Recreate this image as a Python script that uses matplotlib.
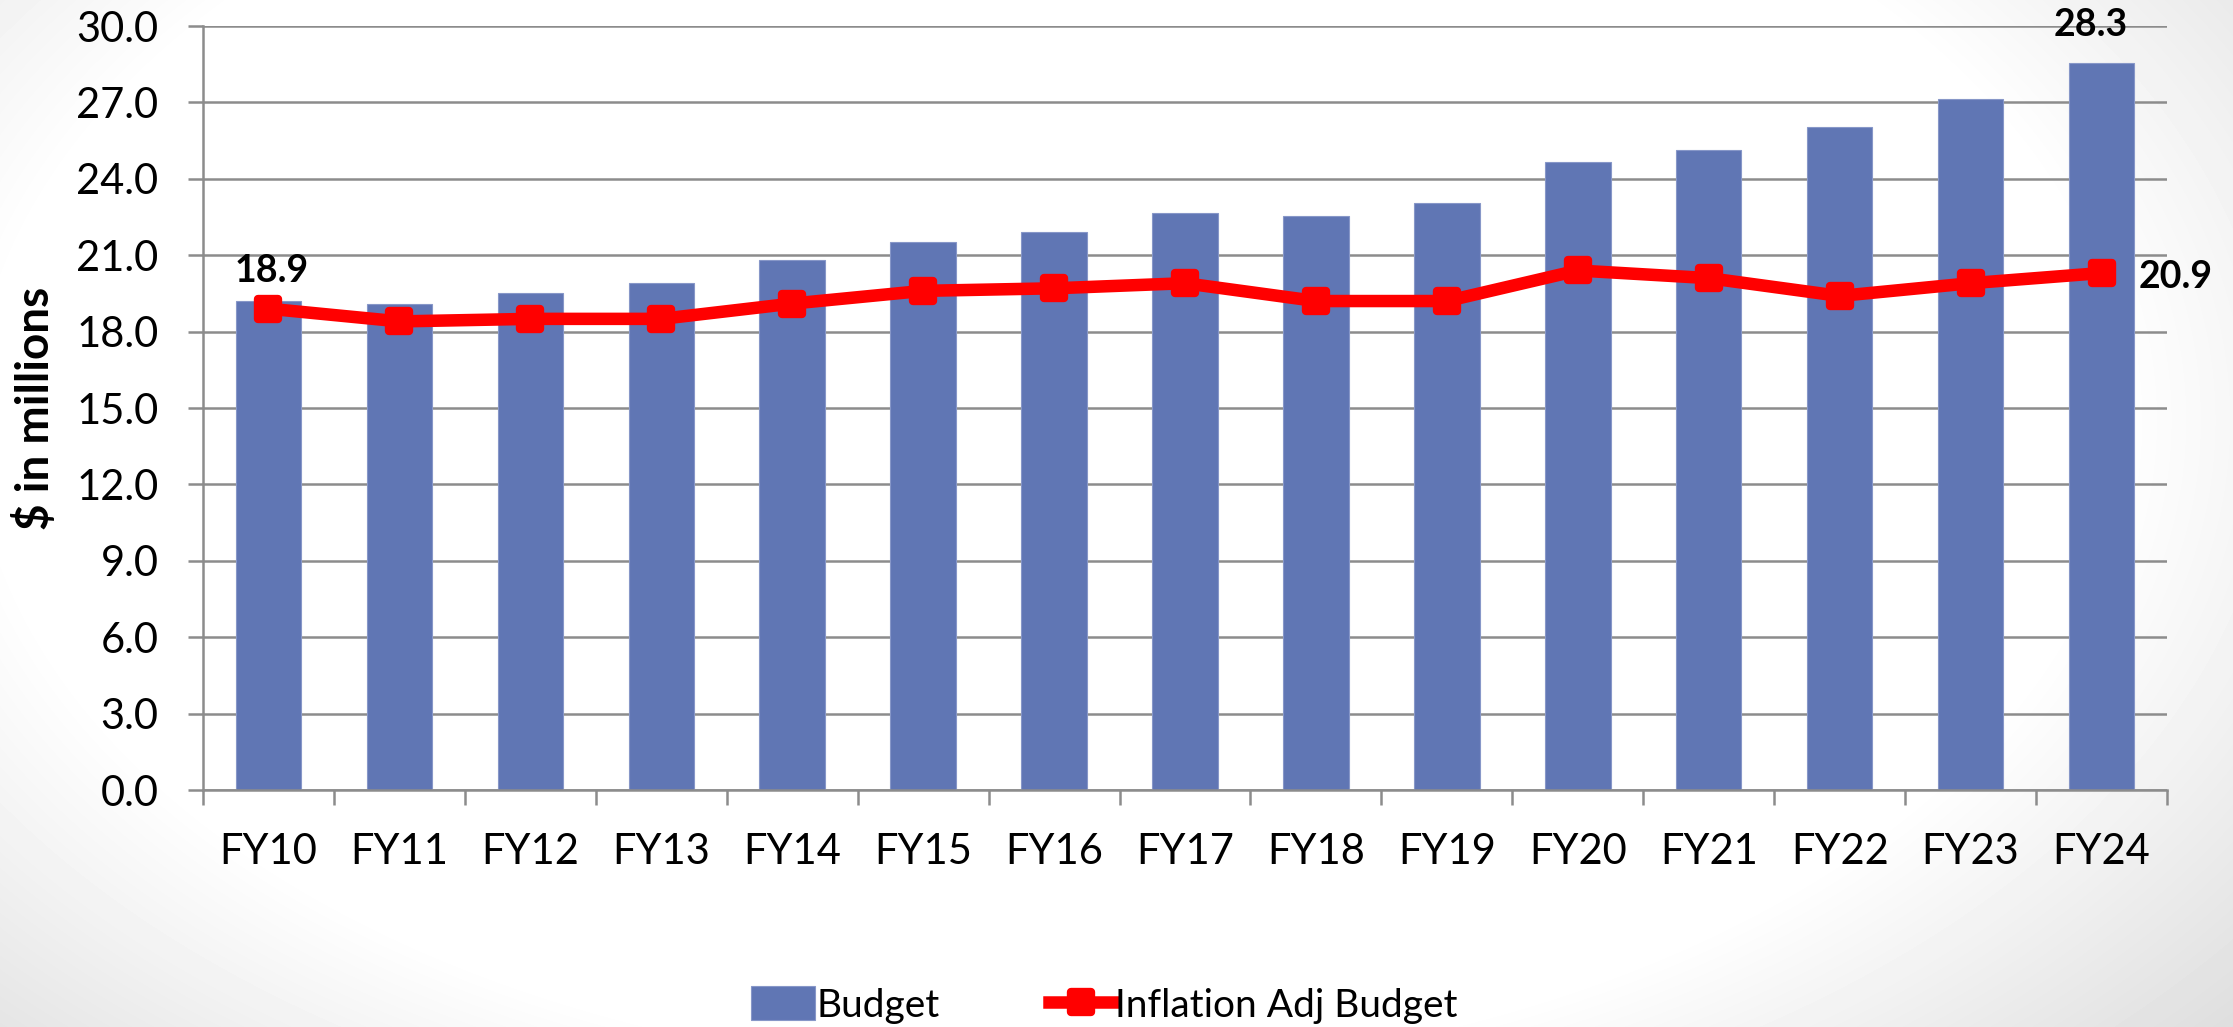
import matplotlib
matplotlib.use("Agg")
import matplotlib.pyplot as plt
import numpy as np
from matplotlib.markers import MarkerStyle
from matplotlib.patches import FancyBboxPatch, Rectangle
from matplotlib.legend_handler import HandlerPatch

# ---------------- data ----------------
categories = ["FY10", "FY11", "FY12", "FY13", "FY14", "FY15", "FY16", "FY17",
              "FY18", "FY19", "FY20", "FY21", "FY22", "FY23", "FY24"]
budget = [19.2, 19.1, 19.5, 19.9, 20.8, 21.5, 21.9, 22.65, 22.55, 23.05,
          24.65, 25.15, 26.05, 27.15, 28.55]
inflation_adj = [18.9, 18.4, 18.5, 18.5, 19.1, 19.6, 19.7, 19.9, 19.2, 19.2,
                 20.4, 20.1, 19.4, 19.9, 20.3]
y_ticks = [0, 3, 6, 9, 12, 15, 18, 21, 24, 27, 30]
first_adj_label = "18.9"
last_budget_label = "28.3"
last_adj_label = "20.9"
series_names = ["Budget", "Inflation Adj Budget"]

# ---------------- style ----------------
BAR_COLOR = "#6076B4"
LINE_COLOR = "#FF0000"
GRID_COLOR = "#8C8C8C"
FONT = "Lato"

W, H, DPI = 2233, 1027, 100
fig = plt.figure(figsize=(W / DPI, H / DPI), dpi=DPI)

# slide-like background vignette
bg = fig.add_axes([0, 0, 1, 1], zorder=-10)
yy, xx = np.mgrid[0:H, 0:W]
r = np.sqrt(((xx - 1050) / 1250.0) ** 2 + ((yy - 420) / 760.0) ** 2)
t = np.clip((r - 0.85) / 0.45, 0, 1)
gray = 1.0 - 0.15 * t
bg.imshow(gray, cmap="gray", vmin=0, vmax=1, aspect="auto", interpolation="bilinear")
bg.set_axis_off()

ax = fig.add_axes([203 / W, 1 - 790 / H, (2167 - 203) / W, (790 - 26) / H])
ax.set_facecolor("none")

x = np.arange(len(categories))
bars = ax.bar(x, budget, width=0.5, color=BAR_COLOR, edgecolor="#8797C8",
              linewidth=0.8, zorder=2, label=series_names[0])
mstyle = MarkerStyle("s", joinstyle="round")
line, = ax.plot(x, inflation_adj, color=LINE_COLOR, linewidth=9, marker=mstyle,
                markersize=15, markeredgewidth=6, markerfacecolor=LINE_COLOR,
                markeredgecolor=LINE_COLOR, solid_joinstyle="round", zorder=3,
                label=series_names[1])

ax.set_xlim(-0.5, len(categories) - 0.5)
ax.set_ylim(0, 30)
ax.set_yticks(y_ticks)
ax.set_yticklabels([f"{v:.1f}" for v in y_ticks], fontsize=30, family=FONT)
ax.set_xticks(x)
ax.set_xticklabels(categories, fontsize=30, family=FONT)
ax.set_xticks(np.arange(-0.5, len(categories), 1.0), minor=True)

ax.yaxis.grid(True, color=GRID_COLOR, linewidth=1.8, zorder=0)
ax.set_axisbelow(True)
ax.tick_params(axis="y", which="major", length=11, width=1.8, color=GRID_COLOR,
               pad=21)
ax.tick_params(axis="x", which="major", length=0, pad=31)
ax.tick_params(axis="x", which="minor", length=11, width=1.8, color=GRID_COLOR)

for side in ["top", "right"]:
    ax.spines[side].set_visible(False)
for side in ["left", "bottom"]:
    ax.spines[side].set_color(GRID_COLOR)
    ax.spines[side].set_linewidth(1.8)

ax.set_ylabel("$ in millions", fontsize=33, family=FONT, fontweight="bold",
              va="center", ha="center")
ax.yaxis.set_label_coords(-0.0855, 0.5)

# data labels
ax.annotate(first_adj_label, (x[0], inflation_adj[0]), xytext=(2, 27),
            textcoords="offset points", ha="center", va="center",
            fontsize=27, fontweight="bold", family=FONT, zorder=5)
ax.annotate(last_budget_label, (x[-1], budget[-1]), xytext=(-8, 27),
            textcoords="offset points", ha="center", va="center",
            fontsize=27, fontweight="bold", family=FONT, zorder=5,
            annotation_clip=False)
ax.annotate(last_adj_label, (x[-1], inflation_adj[-1]), xytext=(27, -3),
            textcoords="offset points", ha="left", va="center",
            fontsize=27, fontweight="bold", family=FONT, zorder=5,
            annotation_clip=False)


# legend with rounded patch
def rounded_patch(legend, orig_handle, xdescent, ydescent, width, height, fontsize):
    return FancyBboxPatch((-xdescent, -ydescent), width, height,
                          boxstyle="round,pad=0,rounding_size=4")


leg = fig.legend([bars, line], series_names, loc="center",
                 bbox_to_anchor=(1104 / W, 1 - 1005 / H),
                 bbox_transform=fig.transFigure, ncol=2, frameon=False,
                 prop={"family": FONT, "size": 28}, handlelength=1.65,
                 handleheight=0.95, handletextpad=0.05, columnspacing=2.8,
                 borderpad=0, borderaxespad=0,
                 handler_map={Rectangle: HandlerPatch(patch_func=rounded_patch)})

fig.savefig("out.png", dpi=DPI)
